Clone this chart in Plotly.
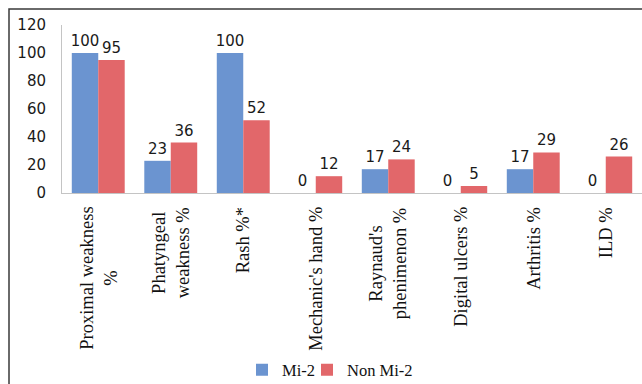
import plotly.graph_objects as go

# Clinical features compared between Mi-2 positive and negative patients
categories = [
    "Proximal weakness<br>%",
    "Phatyngeal<br>weakness %",
    "Rash %*",
    "Mechanic's hand %",
    "Raynaud's<br>phenimenon %",
    "Digital ulcers %",
    "Arthritis %",
    "ILD %",
]
mi2 = [100, 23, 100, 0, 17, 0, 17, 0]
non_mi2 = [95, 36, 52, 12, 24, 5, 29, 26]
y_ticks = [0, 20, 40, 60, 80, 100, 120]

BLUE = "#6b94d0"
RED = "#e2676a"
NUM_FONT = "DejaVu Sans"
TXT_FONT = "Liberation Serif"

W, H = 642, 384
L, R, T, B = 62, 0, 25, 191
plot_w = W - L - R
plot_h = H - T - B


def px_x(p):
    return (p - L) / plot_w


def px_y(p):
    return (H - B - p) / plot_h


fig = go.Figure()
series = [("Mi-2", mi2, BLUE, "legend"), ("Non Mi-2", non_mi2, RED, "legend2")]
for name, vals, col, leg in series:
    fig.add_trace(go.Bar(
        name=name,
        x=categories,
        y=vals,
        legend=leg,
        marker=dict(color=col, line=dict(width=0)),
        text=[str(v) for v in vals],
        textposition="outside",
        textfont=dict(family=NUM_FONT, size=15, color="#1a1a1a"),
        constraintext="none",
        cliponaxis=False,
    ))

# rotated category labels under the axis, lines centred on each other
for cat in categories:
    fig.add_annotation(
        x=cat, xref="x", y=-12 / plot_h, yref="paper",
        text=cat, textangle=-90, showarrow=False,
        xanchor="center", yanchor="top", align="center",
        font=dict(family=TXT_FONT, size=18.5, color="#111111"),
    )

# outer frame around the chart
fig.add_shape(
    type="rect", xref="paper", yref="paper",
    x0=px_x(9), x1=px_x(700), y0=px_y(420), y1=px_y(9),
    line=dict(color="#3a3a3a", width=1.5), fillcolor="rgba(0,0,0,0)",
    layer="below",
)

legend_style = dict(
    orientation="h", xanchor="left", yanchor="middle", y=px_y(370),
    font=dict(family=TXT_FONT, size=16.5, color="#111111"),
    bgcolor="rgba(0,0,0,0)", itemwidth=30,
)

fig.update_layout(
    width=W, height=H,
    margin=dict(l=L, r=R, t=T, b=B, pad=0, autoexpand=False),
    paper_bgcolor="white", plot_bgcolor="white",
    barmode="group", bargap=0.27, bargroupgap=0,
    showlegend=True,
    legend=dict(x=px_x(242), **legend_style),
    legend2=dict(x=px_x(307), **legend_style),
    xaxis=dict(
        type="category", showticklabels=False, ticks="",
        showline=True, linecolor="#c4c4c4", linewidth=1,
        showgrid=False, zeroline=False,
    ),
    yaxis=dict(
        range=[0, 120], tickvals=y_ticks,
        showline=True, linecolor="#c4c4c4", linewidth=1,
        showgrid=False, zeroline=False,
        ticks="outside", ticklen=12, tickcolor="rgba(0,0,0,0)",
        tickfont=dict(family=NUM_FONT, size=15, color="#1a1a1a"),
    ),
)

fig.write_html("out.html")
